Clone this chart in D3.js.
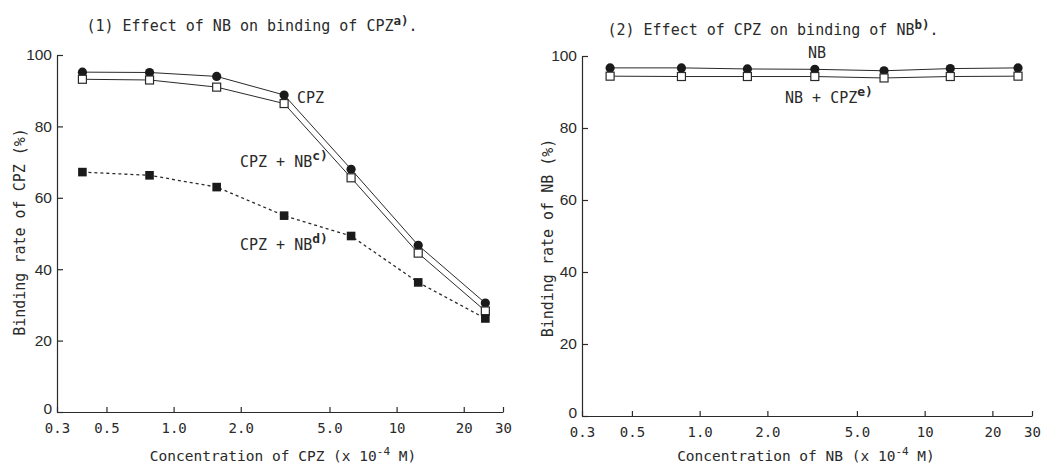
<!DOCTYPE html>
<html><head><meta charset="utf-8">
<script src="https://cdn.jsdelivr.net/npm/d3@7"></script>
<style>
body{margin:0;background:#fff;}
svg text{fill:#2a2a2a;}
</style></head>
<body><svg id="c" width="1043" height="467"></svg>
<script>
// ---- data ----
const concCPZ = [0.39, 0.78, 1.56, 3.13, 6.25, 12.5, 25];
const cpzAlone = [95.2, 95.1, 94.0, 88.8, 68.0, 46.7, 30.5];
const cpzPlusNB_c = [93.2, 93.0, 91.0, 86.4, 65.6, 44.5, 28.3];
const cpzPlusNB_d = [67.2, 66.3, 63.0, 55.0, 49.3, 36.3, 26.2];
const concNB = [0.40, 0.83, 1.63, 3.25, 6.6, 13.0, 26.0];
const nbAlone = [96.7, 96.7, 96.4, 96.3, 95.9, 96.5, 96.7];
const nbPlusCPZ_e = [94.4, 94.3, 94.3, 94.3, 93.9, 94.3, 94.4];
const xTickValues = [0.3, 0.5, 1, 2, 5, 10, 20, 30];
const xTickLabels = ["0.3", "0.5", "1.0", "2.0", "5.0", "10", "20", "30"];
const yTickValues = [0, 20, 40, 60, 80, 100];

const svg = d3.select("#c");
const MONO = "'DejaVu Sans Mono', monospace";
const SANS = "'Liberation Sans', Arial, sans-serif";
const INK = "#2a2a2a";

function panel(o) {
  const x = d3.scaleLog().domain([0.3, 30]).range([o.x0, o.x1]);
  const y = d3.scaleLinear().domain([0, 100]).range([o.y0, o.y1]);
  const g = svg.append("g");

  // y axis
  const ya = g.append("g").attr("transform", `translate(${o.x0},0)`)
    .call(d3.axisLeft(y).tickValues(yTickValues).tickSizeInner(-6).tickSizeOuter(0).tickPadding(5).tickFormat(d3.format("d")));
  ya.selectAll("text").attr("font-family", SANS).attr("font-size", 15.5).attr("fill", INK)
    .attr("dy", d => d === 0 ? "0.1em" : "0.32em");
  ya.selectAll("line,path").attr("stroke", INK).attr("stroke-width", 1.2);

  // x axis
  const xa = g.append("g").attr("transform", `translate(0,${o.y0})`)
    .call(d3.axisBottom(x).tickValues(xTickValues).tickSizeInner(-5).tickSizeOuter(0).tickPadding(11)
      .tickFormat((d, i) => xTickLabels[i]));
  xa.selectAll("text").attr("font-family", MONO).attr("font-size", 14).attr("fill", INK);
  xa.selectAll("line,path").attr("stroke", INK).attr("stroke-width", 1.2);

  // series
  o.series.forEach(s => {
    const pts = s.vals.map((v, i) => [x(o.conc[i]), y(v)]);
    g.append("path").attr("d", d3.line()(pts)).attr("fill", "none")
      .attr("stroke", INK).attr("stroke-width", s.dash ? 1.3 : 1)
      .attr("stroke-dasharray", s.dash ? "3,3" : null);
  });
  o.series.forEach(s => {
    s.vals.forEach((v, i) => {
      const cx = x(o.conc[i]), cy = y(v);
      if (s.mark === "circle") {
        g.append("circle").attr("cx", cx).attr("cy", cy).attr("r", 4.6).attr("fill", "#1a1a1a");
      } else if (s.mark === "open") {
        g.append("rect").attr("x", cx - 4).attr("y", cy - 4).attr("width", 8).attr("height", 8)
          .attr("fill", "#fff").attr("stroke", INK).attr("stroke-width", 1.2);
      } else {
        g.append("rect").attr("x", cx - 4.3).attr("y", cy - 4.3).attr("width", 8.6).attr("height", 8.6)
          .attr("fill", "#1a1a1a");
      }
    });
  });

  // title
  const t = g.append("text").attr("x", o.titleX).attr("y", o.titleY).attr("text-anchor", "middle")
    .attr("font-family", MONO).attr("font-size", 15);
  t.append("tspan").text(o.title[0]);
  t.append("tspan").attr("dy", -6).attr("font-size", 12.5).attr("font-weight", "bold").text(o.title[1]);
  t.append("tspan").attr("dy", 6).text(".");

  // x label
  const xl = g.append("text").attr("x", o.xlabX).attr("y", 461).attr("text-anchor", "middle")
    .attr("font-family", MONO).attr("font-size", 14.5);
  xl.append("tspan").text(o.xlab + " (x 10");
  xl.append("tspan").attr("dy", -6).attr("font-size", 11).text("-4");
  xl.append("tspan").attr("dy", 6).text(" M)");

  // y label
  g.append("text").attr("transform", `translate(${o.ylabX},${o.ylabY}) rotate(-90)`)
    .attr("text-anchor", "middle").attr("dy", "0.35em")
    .attr("font-family", MONO).attr("font-size", 15).text(o.ylab);

  // annotations
  o.notes.forEach(n => {
    const tx = g.append("text").attr("x", n.x).attr("y", n.y).attr("text-anchor", n.anchor || "start")
      .attr("font-family", MONO).attr("font-size", 15);
    tx.append("tspan").text(n.t);
    if (n.sup) tx.append("tspan").attr("dy", -7).attr("font-size", 13).attr("font-weight", "bold").text(n.sup);
  });
}

panel({
  x0: 57, x1: 503, y0: 412, y1: 55, conc: concCPZ,
  series: [
    {vals: cpzAlone, mark: "circle"},
    {vals: cpzPlusNB_c, mark: "open"},
    {vals: cpzPlusNB_d, mark: "filled", dash: true}
  ],
  title: ["(1) Effect of NB on binding of CPZ", "a)"], titleX: 252, titleY: 31,
  xlab: "Concentration of CPZ", xlabX: 283,
  ylab: "Binding rate of CPZ (%)", ylabX: 20, ylabY: 232,
  notes: [
    {t: "CPZ", x: 297, y: 103},
    {t: "CPZ + NB", sup: "c)", x: 240, y: 167},
    {t: "CPZ + NB", sup: "d)", x: 240, y: 250}
  ]
});

panel({
  x0: 582, x1: 1032, y0: 416, y1: 56, conc: concNB,
  series: [
    {vals: nbAlone, mark: "circle"},
    {vals: nbPlusCPZ_e, mark: "open"}
  ],
  title: ["(2) Effect of CPZ on binding of NB", "b)"], titleX: 773, titleY: 35,
  xlab: "Concentration of NB", xlabX: 806,
  ylab: "Binding rate of NB (%)", ylabX: 548, ylabY: 238,
  notes: [
    {t: "NB", x: 817, y: 58, anchor: "middle"},
    {t: "NB + CPZ", sup: "e)", x: 785, y: 103}
  ]
});
</script></body></html>
